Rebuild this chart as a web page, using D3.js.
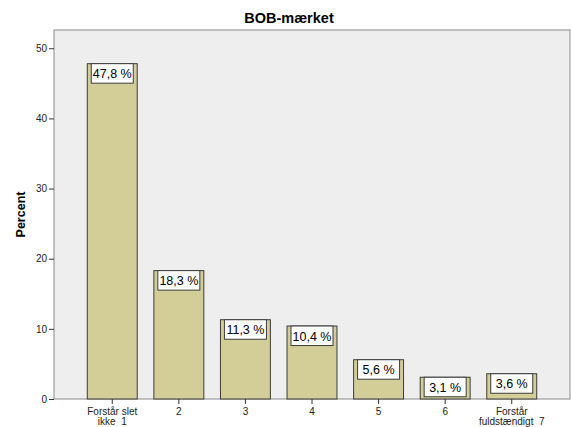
<!DOCTYPE html>
<html>
<head>
<meta charset="utf-8">
<script src="https://cdn.jsdelivr.net/npm/d3@7"></script>
<style>
  body { margin: 0; background: #fff; }
  text { font-family: "Liberation Sans", Arial, sans-serif; white-space: pre; }
</style>
</head>
<body>
<div id="chart"></div>
<script>
// data
const categories = ['Forstår slet\nikke  1', '2', '3', '4', '5', '6', 'Forstår\nfuldstændigt  7'];
const percents = [47.8, 18.3, 11.3, 10.4, 5.6, 3.1, 3.6];
const yTicks = [0, 10, 20, 30, 40, 50];

const width = 571, height = 427;
const plot = { left: 54, top: 30, right: 570, bottom: 399 };

const svg = d3.select('#chart').append('svg').attr('width', width).attr('height', height);

// plot background
svg.append('rect')
  .attr('x', plot.left).attr('y', plot.top)
  .attr('width', plot.right - plot.left).attr('height', plot.bottom - plot.top)
  .attr('fill', '#eeeeee').attr('stroke', '#8a8a8a').attr('stroke-width', 1);

const x = d3.scaleBand().domain(categories).range([plot.left, plot.right])
  .paddingInner(0.25).paddingOuter(0.5);
const y = d3.scaleLinear().domain([0, 52.6]).range([plot.bottom, plot.top]);

// bars
svg.selectAll('rect.bar').data(percents).enter().append('rect')
  .attr('class', 'bar')
  .attr('x', (d, i) => x(categories[i]))
  .attr('y', d => y(d))
  .attr('width', x.bandwidth())
  .attr('height', d => y(0) - y(d))
  .attr('fill', '#d3ce97').attr('stroke', '#3c3c3c').attr('stroke-width', 1);

// value boxes
const fmt = d => d3.format('.1f')(d).replace('.', ',') + ' %';
const lab = svg.selectAll('g.lab').data(percents).enter().append('g').attr('class', 'lab');
lab.append('rect')
  .attr('x', (d, i) => x(categories[i]) + x.bandwidth() / 2 - 21)
  .attr('y', d => y(d))
  .attr('width', 42).attr('height', 19.5)
  .attr('fill', '#fff').attr('stroke', '#3c3c3c').attr('stroke-width', 1);
lab.append('text')
  .attr('x', (d, i) => x(categories[i]) + x.bandwidth() / 2)
  .attr('y', d => y(d) + 14.5)
  .attr('text-anchor', 'middle').attr('font-size', 12.5).attr('fill', '#000')
  .text(fmt);

// y axis
const yAxis = svg.append('g').attr('transform', `translate(${plot.left},0)`)
  .call(d3.axisLeft(y).tickValues(yTicks).tickSize(5).tickPadding(2));
yAxis.select('.domain').remove();
yAxis.selectAll('line').attr('stroke', '#333');
yAxis.selectAll('text').attr('font-size', 10).attr('fill', '#222')
  .style('font-family', '"Liberation Sans", Arial, sans-serif');

// x axis
const xAxis = svg.append('g').attr('transform', `translate(0,${plot.bottom})`)
  .call(d3.axisBottom(x).tickSize(5).tickPadding(3));
xAxis.select('.domain').remove();
xAxis.selectAll('line').attr('stroke', '#333');
xAxis.selectAll('text').remove();
xAxis.selectAll('.tick').each(function(d) {
  const t = d3.select(this).append('text')
    .attr('text-anchor', 'middle').attr('font-size', 10).attr('fill', '#222')
    .style('font-family', '"Liberation Sans", Arial, sans-serif');
  d.split('\n').forEach((line, i) => {
    t.append('tspan').attr('x', 0).attr('y', 16 + i * 10).text(line);
  });
});

// title
svg.append('text').attr('x', 289).attr('y', 22.5)
  .attr('text-anchor', 'middle').attr('font-size', 14.5).attr('font-weight', 'bold')
  .text('BOB-mærket');

// y label
svg.append('text')
  .attr('transform', `translate(24.5,${(plot.top + plot.bottom) / 2}) rotate(-90)`)
  .attr('text-anchor', 'middle').attr('font-size', 12.5).attr('font-weight', 'bold')
  .text('Percent');
</script>
</body>
</html>
